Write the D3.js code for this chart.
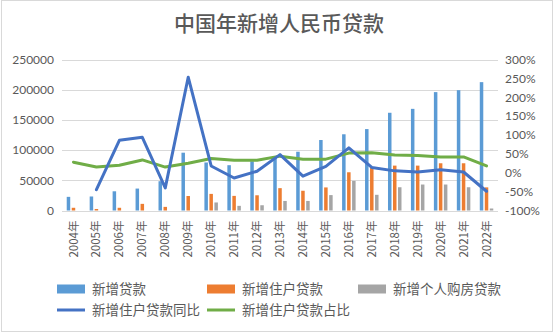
<!DOCTYPE html>
<html><head><meta charset="utf-8">
<script src="https://cdn.jsdelivr.net/npm/d3@7"></script>
<style>body{margin:0;background:#fff}text{font-family:"Noto Sans CJK SC","Noto Sans",sans-serif;}</style>
</head><body>
<svg id="c" width="554" height="333"></svg>
<script>
const years = ["2004年","2005年","2006年","2007年","2008年","2009年","2010年","2011年","2012年","2013年","2014年","2015年","2016年","2017年","2018年","2019年","2020年","2021年","2022年"];
const newLoans = [22600, 23200, 31800, 36300, 48500, 95700, 79500, 75000, 81500, 88000, 97300, 116700, 126200, 134800, 161800, 168300, 196000, 199200, 212500];
const householdLoans = [4500, 2500, 4500, 11000, 6000, 24000, 27500, 24200, 25200, 37000, 32700, 38200, 63300, 71500, 74300, 74300, 78200, 78200, 38300];
const housingLoans = [null, null, null, null, null, null, 13300, 7700, 8700, 15800, 15800, 25500, 49000, 26000, 38500, 43000, 43000, 38500, 3300];
const householdYoY = [null, -45, 86, 94, -40, 253, 18, -14, 4, 48, -9, 17, 66, 14, 5, 2, 8, 2, -49];
const householdShare = [28, 15, 20, 34, 15, 25, 37.6, 33, 33, 44, 36, 36, 52, 53, 47, 46, 42, 42, 18];
const leftTicks = [0, 50000, 100000, 150000, 200000, 250000];
const rightTicks = [-100, -50, 0, 50, 100, 150, 200, 250, 300];
const legendNames = ["新增贷款", "新增住户贷款", "新增个人购房贷款", "新增住户贷款同比", "新增住户贷款占比"];
const title = "中国年新增人民币贷款";

const C = {blue:"#5B9BD5", orange:"#ED7D31", gray:"#A5A5A5", line:"#4472C4", green:"#70AD47", text:"#595959", grid:"#D9D9D9"};
const svg = d3.select("#c");
svg.append("rect").attr("x",1.5).attr("y",0.5).attr("width",551).attr("height",331).attr("fill","#fff").attr("stroke","#D9D9D9");

const L = 62, R = 498, T = 59.5, B = 210.5;
const x = d3.scaleBand().domain(years).range([L, R]).padding(0);
const yL = d3.scaleLinear().domain([0, 250000]).range([B, T]);
const yR = d3.scaleLinear().domain([-100, 300]).range([B, T]);

svg.append("text").attr("x", 279).attr("y", 31).attr("text-anchor","middle")
  .attr("font-size", 21).attr("fill", C.text).attr("font-weight", 500).style("font-family","'Noto Sans CJK SC'").text(title);

// gridlines
svg.append("g").selectAll("line").data(leftTicks).join("line")
  .attr("x1", L).attr("x2", R).attr("y1", d=>Math.round(yL(d))+0.5).attr("y2", d=>Math.round(yL(d))+0.5)
  .attr("stroke", C.grid).attr("stroke-width", 1);

// left axis
const gl = svg.append("g").attr("transform", `translate(${L-8},0)`)
  .call(d3.axisLeft(yL).tickValues(leftTicks).tickSize(0).tickPadding(0).tickFormat(d3.format("d")));
gl.select(".domain").remove();
gl.selectAll("text").attr("font-size", 12).attr("fill", C.text).style("font-family","Lato,'Noto Sans',sans-serif");

// right axis
const gr = svg.append("g").attr("transform", `translate(${R+7},0)`)
  .call(d3.axisRight(yR).tickValues(rightTicks).tickSize(0).tickPadding(0).tickFormat(d=>d+"%"));
gr.select(".domain").remove();
gr.selectAll("text").attr("font-size", 12).attr("fill", C.text).style("font-family","Lato,'Noto Sans',sans-serif");

// x labels
const gx = svg.append("g").attr("transform", `translate(0,${B+5})`)
  .call(d3.axisBottom(x).tickSize(0).tickPadding(0));
gx.select(".domain").remove();
gx.selectAll("text").attr("font-size", 11.5).attr("fill", C.text)
  .attr("transform","rotate(-90)").attr("text-anchor","end").attr("dy","0.35em").attr("dx","-3").attr("y",0).attr("x",-2);

// bars
const bw = 3.5;
const series = [{v:newLoans,c:C.blue,o:-5},{v:householdLoans,c:C.orange,o:0},{v:housingLoans,c:C.gray,o:5}];
series.forEach(s=>{
  svg.append("g").selectAll("rect").data(years.map((y,i)=>({y, v:s.v[i]})).filter(d=>d.v!=null)).join("rect")
    .attr("x", d=>x(d.y)+x.bandwidth()/2+s.o-bw/2).attr("width", bw)
    .attr("y", d=>yL(d.v)).attr("height", d=>yL(0)-yL(d.v)).attr("fill", s.c);
});

// lines
const lineGen = d3.line().defined(d=>d.v!=null).x(d=>x(d.y)+x.bandwidth()/2).y(d=>yR(d.v));
svg.append("path").datum(years.map((y,i)=>({y, v:householdShare[i]}))).attr("d", lineGen)
  .attr("fill","none").attr("stroke", C.green).attr("stroke-width", 3).attr("stroke-linejoin","round").attr("stroke-linecap","round");
svg.append("path").datum(years.map((y,i)=>({y, v:householdYoY[i]}))).attr("d", lineGen)
  .attr("fill","none").attr("stroke", C.line).attr("stroke-width", 3).attr("stroke-linejoin","round").attr("stroke-linecap","round");

// legend
const leg = [
  {n:legendNames[0], c:C.blue, t:"bar", x:57, y:289},
  {n:legendNames[1], c:C.orange, t:"bar", x:207, y:289},
  {n:legendNames[2], c:C.gray, t:"bar", x:358, y:289},
  {n:legendNames[3], c:C.line, t:"line", x:57, y:310},
  {n:legendNames[4], c:C.green, t:"line", x:207, y:310}
];
const lg = svg.append("g");
leg.forEach(d=>{
  if (d.t==="bar") lg.append("rect").attr("x", d.x).attr("y", d.y-4.5).attr("width", 28).attr("height", 9).attr("fill", d.c);
  else lg.append("line").attr("x1", d.x).attr("x2", d.x+28).attr("y1", d.y).attr("y2", d.y).attr("stroke", d.c).attr("stroke-width", 3);
  lg.append("text").attr("x", d.x+35).attr("y", d.y).attr("dy","0.35em").attr("font-size", 13.5).attr("fill", C.text).text(d.n);
});
</script>
</body></html>
